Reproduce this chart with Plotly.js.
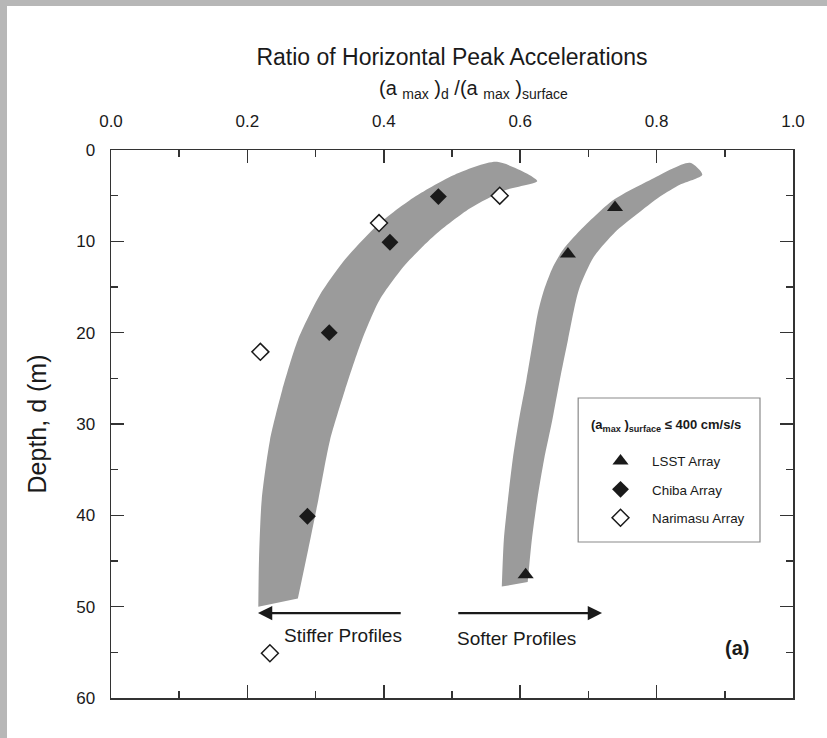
<!DOCTYPE html>
<html>
<head>
<meta charset="utf-8">
<script src="https://cdn.plot.ly/plotly-3.0.1.min.js"></script>
<style>
  html, body { margin: 0; padding: 0; background: #b7b7b7; }
  #sheet { position: absolute; left: 7px; top: 6px; width: 820px; height: 732px; background: #ffffff; }
  #chart { position: absolute; left: 0; top: 0; width: 827px; height: 738px; }
</style>
</head>
<body>
<div id="sheet"></div>
<div id="chart"></div>
<script>
// Measured peak-acceleration ratios (a_max)_d / (a_max)_surface versus depth
const lsstRatio      = [0.739, 0.670, 0.608];
const lsstDepth      = [6.3, 11.4, 46.5];
const chibaRatio     = [0.480, 0.409, 0.320, 0.288];
const chibaDepth     = [5.1, 10.1, 20.0, 40.1];
const narimasuRatio  = [0.570, 0.393, 0.219, 0.233];
const narimasuDepth  = [5.0, 8.0, 22.1, 55.1];

// Outline of the band for stiffer profiles (outer edge upward, inner edge downward)
const stiffBandRatio = [0.216, 0.217, 0.221, 0.233, 0.251, 0.274, 0.306, 0.343, 0.391, 0.446, 0.504, 0.566,
                        0.625,
                        0.578, 0.526, 0.475, 0.431, 0.394, 0.368, 0.343, 0.321, 0.304, 0.289, 0.274];
const stiffBandDepth = [50.0, 44.9, 38.3, 31.8, 26.3, 20.8, 15.9, 12.0, 8.2, 5.1, 2.7, 1.3,
                        3.4,
                        4.4, 6.4, 9.3, 12.6, 16.4, 20.8, 26.3, 31.8, 38.3, 43.8, 49.1];

// Outline of the band for softer profiles
const softBandRatio  = [0.573, 0.576, 0.582, 0.589, 0.598, 0.609, 0.619, 0.626, 0.635, 0.648, 0.663, 0.688, 0.736, 0.790, 0.849,
                        0.867,
                        0.834, 0.805, 0.770, 0.739, 0.708, 0.686, 0.670, 0.658, 0.647, 0.635, 0.625, 0.617, 0.611];
const softBandDepth  = [47.8, 42.7, 38.3, 33.9, 29.6, 25.2, 20.8, 17.8, 15.3, 12.8, 10.9, 8.8, 5.5, 3.3, 1.4,
                        2.7,
                        3.8, 5.1, 7.1, 9.0, 11.7, 15.3, 20.8, 25.2, 29.6, 33.9, 38.3, 42.7, 47.3];

// Direction arrows below the bands: [tip ratio, tail ratio, depth]
const stifferArrow = [0.2155, 0.427, 50.7];
const softerArrow  = [0.720, 0.507, 50.7];

const ink = '#1a1a1a';
const axisInk = '#333333';
const bandGray = '#9b9b9b';
const fontFamily = 'Arial, "Liberation Sans", sans-serif';

function band(xs, ys, group) {
  return { type: 'scatter', mode: 'lines', x: xs, y: ys, fill: 'toself', fillcolor: bandGray,
           line: { width: 0, color: bandGray, shape: 'spline', smoothing: 0.7 },
           showlegend: false, hoverinfo: 'skip', legendgroup: group };
}

const traces = [
  band(stiffBandRatio, stiffBandDepth, 'stiff'),
  band(softBandRatio, softBandDepth, 'soft'),
  { type: 'scatter', mode: 'markers', name: 'LSST Array', legendgroup: 'lsst', x: lsstRatio, y: lsstDepth,
    marker: { symbol: 'triangle-up', size: 14, color: ink } },
  { type: 'scatter', mode: 'markers', name: 'Chiba Array', legendgroup: 'chiba', x: chibaRatio, y: chibaDepth,
    marker: { symbol: 'diamond', size: 13, color: ink } },
  { type: 'scatter', mode: 'markers', name: 'Narimasu Array', legendgroup: 'narimasu', x: narimasuRatio, y: narimasuDepth,
    marker: { symbol: 'diamond', size: 13, color: '#ffffff', line: { color: ink, width: 1.5 } } }
];

function arrow(a) {
  return { x: a[0], y: a[2], ax: a[1], ay: a[2], xref: 'x', yref: 'y', axref: 'x', ayref: 'y',
           text: '', showarrow: true, arrowhead: 2, arrowsize: 1.3, arrowwidth: 2.2, arrowcolor: ink };
}

const layout = {
  width: 827, height: 738,
  margin: { l: 111, r: 34, t: 150, b: 40 },
  paper_bgcolor: 'rgba(0,0,0,0)',
  plot_bgcolor: 'rgba(0,0,0,0)',
  font: { family: fontFamily, color: ink },
  title: {
    text: 'Ratio of Horizontal Peak Accelerations',
    x: 0.5, xref: 'paper', xanchor: 'center',
    y: 1 - 57 / 738, yref: 'container', yanchor: 'middle',
    font: { size: 23, color: ink }
  },
  xaxis: {
    range: [0, 1], side: 'top', tick0: 0, dtick: 0.2, tickformat: '.1f',
    ticks: 'inside', ticklen: 13, tickwidth: 1.5, tickcolor: axisInk,
    showline: true, linecolor: axisInk, linewidth: 1.5, mirror: 'allticks',
    showgrid: false, zeroline: false, fixedrange: true,
    tickfont: { size: 17, color: ink }, ticklabelstandoff: 15,
    minor: { dtick: 0.1, ticks: 'inside', ticklen: 7, tickwidth: 1.5, tickcolor: axisInk, showgrid: false }
  },
  yaxis: {
    range: [60, 0], tick0: 0, dtick: 10,
    ticks: 'inside', ticklen: 13, tickwidth: 1.5, tickcolor: axisInk,
    showline: true, linecolor: axisInk, linewidth: 1.5, mirror: 'allticks',
    showgrid: false, zeroline: false, fixedrange: true,
    tickfont: { size: 17, color: ink }, ticklabelstandoff: 11,
    minor: { dtick: 5, ticks: 'inside', ticklen: 7, tickwidth: 1.5, tickcolor: axisInk, showgrid: false },
    title: { text: 'Depth, d (m)', font: { size: 25, color: ink }, standoff: 22 }
  },
  showlegend: true,
  legend: {
    x: 0.7009, y: 0.522, xanchor: 'left', yanchor: 'top',
    bgcolor: 'rgba(0,0,0,0)', borderwidth: 0,
    font: { size: 13.4, color: ink },
    itemwidth: 53, tracegroupgap: 8, traceorder: 'grouped',
    title: { text: '<b>(a<sub>max</sub> )<sub>surface</sub> ≤ 400 cm/s/s</b><br>&nbsp;', font: { size: 13, color: ink } }
  },
  shapes: [
    { type: 'rect', xref: 'paper', yref: 'paper', x0: 0.685, x1: 0.9516, y0: 0.2847, y1: 0.5474,
      line: { color: '#8a8a8a', width: 1.2 }, fillcolor: 'rgba(255,255,255,0)' }
  ],
  annotations: [
    { x: 0.531, y: 1.1095, xref: 'paper', yref: 'paper', yanchor: 'middle', showarrow: false,
      text: '(a <sub>max</sub> )<sub>d</sub> /(a <sub>max</sub> )<sub>surface</sub>',
      font: { size: 20, color: ink } },
    arrow(stifferArrow),
    arrow(softerArrow),
    { x: 0.34, y: 53.2, xref: 'x', yref: 'y', text: 'Stiffer Profiles', showarrow: false,
      font: { size: 19, color: ink } },
    { x: 0.594, y: 53.5, xref: 'x', yref: 'y', text: 'Softer Profiles', showarrow: false,
      font: { size: 19, color: ink } },
    { x: 0.918, y: 54.5, xref: 'x', yref: 'y', text: '<b>(a)</b>', showarrow: false,
      font: { size: 20, color: ink } }
  ]
};

Plotly.newPlot('chart', traces, layout, { displayModeBar: false, staticPlot: true });
</script>
</body>
</html>
